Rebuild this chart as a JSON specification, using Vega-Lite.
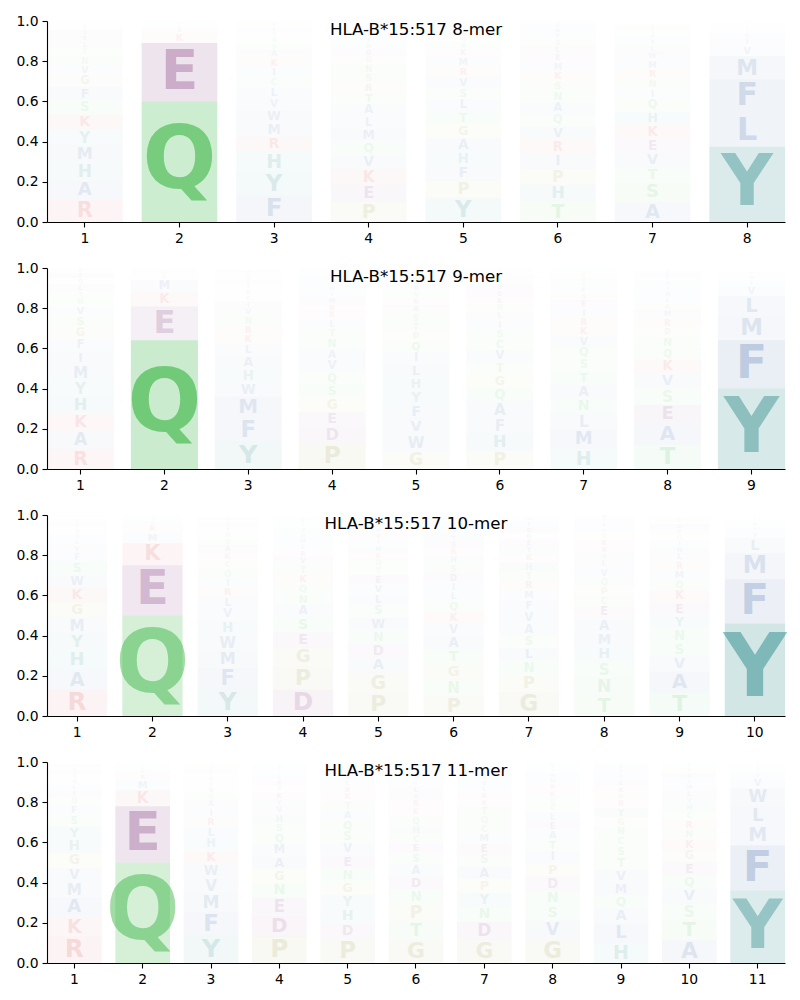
{
"$schema":"https://vega.github.io/schema/vega-lite/v6.json",
"padding":{"left":15,"top":14,"right":10,"bottom":5},
"background":"white",
"spacing":16,
"config":{"view":{"stroke":null},"axis":{"domainColor":"#000","tickColor":"#000","labelColor":"#000","labelFont":"DejaVu Sans","labelFontSize":13.9,"tickSize":5,"tickWidth":1.1,"domainWidth":1.1,"labelPadding":4,"grid":false},"title":{"font":"DejaVu Sans","fontSize":16.67,"fontWeight":"normal","color":"#000","offset":0,"dy":29,"baseline":"alphabetic"}},
"data":{"values":[
{"k":8,"pos":1,"aa":"R","p":0.11},{"k":8,"pos":1,"aa":"A","p":0.095},{"k":8,"pos":1,"aa":"H","p":0.09},{"k":8,"pos":1,"aa":"M","p":0.085},{"k":8,"pos":1,"aa":"Y","p":0.08},{"k":8,"pos":1,"aa":"K","p":0.075},{"k":8,"pos":1,"aa":"S","p":0.07},{"k":8,"pos":1,"aa":"F","p":0.065},{"k":8,"pos":1,"aa":"G","p":0.06},{"k":8,"pos":1,"aa":"V","p":0.05},{"k":8,"pos":1,"aa":"N","p":0.045},{"k":8,"pos":1,"aa":"T","p":0.04},{"k":8,"pos":1,"aa":"L","p":0.035},{"k":8,"pos":1,"aa":"E","p":0.03},{"k":8,"pos":1,"aa":"D","p":0.025},{"k":8,"pos":1,"aa":"Q","p":0.02},{"k":8,"pos":1,"aa":"C","p":0.015},{"k":8,"pos":1,"aa":"W","p":0.01},
{"k":8,"pos":2,"aa":"Q","p":0.60},{"k":8,"pos":2,"aa":"E","p":0.29},{"k":8,"pos":2,"aa":"K","p":0.05},{"k":8,"pos":2,"aa":"R","p":0.025},{"k":8,"pos":2,"aa":"M","p":0.015},{"k":8,"pos":2,"aa":"D","p":0.01},{"k":8,"pos":2,"aa":"H","p":0.01},
{"k":8,"pos":3,"aa":"F","p":0.13},{"k":8,"pos":3,"aa":"Y","p":0.12},{"k":8,"pos":3,"aa":"H","p":0.10},{"k":8,"pos":3,"aa":"R","p":0.075},{"k":8,"pos":3,"aa":"M","p":0.07},{"k":8,"pos":3,"aa":"W","p":0.065},{"k":8,"pos":3,"aa":"V","p":0.055},{"k":8,"pos":3,"aa":"L","p":0.055},{"k":8,"pos":3,"aa":"C","p":0.05},{"k":8,"pos":3,"aa":"I","p":0.05},{"k":8,"pos":3,"aa":"K","p":0.045},{"k":8,"pos":3,"aa":"A","p":0.04},{"k":8,"pos":3,"aa":"S","p":0.035},{"k":8,"pos":3,"aa":"N","p":0.03},{"k":8,"pos":3,"aa":"T","p":0.025},{"k":8,"pos":3,"aa":"E","p":0.02},{"k":8,"pos":3,"aa":"G","p":0.02},{"k":8,"pos":3,"aa":"Q","p":0.015},
{"k":8,"pos":4,"aa":"P","p":0.10},{"k":8,"pos":4,"aa":"E","p":0.085},{"k":8,"pos":4,"aa":"K","p":0.08},{"k":8,"pos":4,"aa":"V","p":0.07},{"k":8,"pos":4,"aa":"Q","p":0.065},{"k":8,"pos":4,"aa":"M","p":0.065},{"k":8,"pos":4,"aa":"L","p":0.06},{"k":8,"pos":4,"aa":"A","p":0.06},{"k":8,"pos":4,"aa":"T","p":0.055},{"k":8,"pos":4,"aa":"R","p":0.05},{"k":8,"pos":4,"aa":"S","p":0.05},{"k":8,"pos":4,"aa":"N","p":0.045},{"k":8,"pos":4,"aa":"G","p":0.04},{"k":8,"pos":4,"aa":"D","p":0.035},{"k":8,"pos":4,"aa":"H","p":0.03},{"k":8,"pos":4,"aa":"Y","p":0.03},{"k":8,"pos":4,"aa":"F","p":0.025},{"k":8,"pos":4,"aa":"W","p":0.02},{"k":8,"pos":4,"aa":"C","p":0.02},{"k":8,"pos":4,"aa":"I","p":0.015},
{"k":8,"pos":5,"aa":"Y","p":0.12},{"k":8,"pos":5,"aa":"P","p":0.085},{"k":8,"pos":5,"aa":"F","p":0.075},{"k":8,"pos":5,"aa":"H","p":0.07},{"k":8,"pos":5,"aa":"A","p":0.07},{"k":8,"pos":5,"aa":"G","p":0.065},{"k":8,"pos":5,"aa":"T","p":0.065},{"k":8,"pos":5,"aa":"L","p":0.06},{"k":8,"pos":5,"aa":"S","p":0.055},{"k":8,"pos":5,"aa":"V","p":0.055},{"k":8,"pos":5,"aa":"R","p":0.05},{"k":8,"pos":5,"aa":"M","p":0.05},{"k":8,"pos":5,"aa":"K","p":0.04},{"k":8,"pos":5,"aa":"N","p":0.035},{"k":8,"pos":5,"aa":"Q","p":0.03},{"k":8,"pos":5,"aa":"E","p":0.025},{"k":8,"pos":5,"aa":"W","p":0.02},{"k":8,"pos":5,"aa":"I","p":0.015},{"k":8,"pos":5,"aa":"D","p":0.015},
{"k":8,"pos":6,"aa":"T","p":0.10},{"k":8,"pos":6,"aa":"H","p":0.085},{"k":8,"pos":6,"aa":"P","p":0.08},{"k":8,"pos":6,"aa":"I","p":0.075},{"k":8,"pos":6,"aa":"R","p":0.07},{"k":8,"pos":6,"aa":"V","p":0.065},{"k":8,"pos":6,"aa":"Q","p":0.06},{"k":8,"pos":6,"aa":"A","p":0.06},{"k":8,"pos":6,"aa":"N","p":0.055},{"k":8,"pos":6,"aa":"S","p":0.05},{"k":8,"pos":6,"aa":"K","p":0.05},{"k":8,"pos":6,"aa":"M","p":0.045},{"k":8,"pos":6,"aa":"E","p":0.04},{"k":8,"pos":6,"aa":"L","p":0.04},{"k":8,"pos":6,"aa":"G","p":0.035},{"k":8,"pos":6,"aa":"Y","p":0.03},{"k":8,"pos":6,"aa":"W","p":0.025},{"k":8,"pos":6,"aa":"D","p":0.02},{"k":8,"pos":6,"aa":"F","p":0.015},
{"k":8,"pos":7,"aa":"A","p":0.10},{"k":8,"pos":7,"aa":"S","p":0.095},{"k":8,"pos":7,"aa":"T","p":0.075},{"k":8,"pos":7,"aa":"V","p":0.075},{"k":8,"pos":7,"aa":"E","p":0.07},{"k":8,"pos":7,"aa":"K","p":0.07},{"k":8,"pos":7,"aa":"H","p":0.065},{"k":8,"pos":7,"aa":"Q","p":0.06},{"k":8,"pos":7,"aa":"I","p":0.05},{"k":8,"pos":7,"aa":"N","p":0.05},{"k":8,"pos":7,"aa":"R","p":0.05},{"k":8,"pos":7,"aa":"M","p":0.045},{"k":8,"pos":7,"aa":"W","p":0.04},{"k":8,"pos":7,"aa":"L","p":0.035},{"k":8,"pos":7,"aa":"Y","p":0.03},{"k":8,"pos":7,"aa":"F","p":0.025},{"k":8,"pos":7,"aa":"G","p":0.02},{"k":8,"pos":7,"aa":"D","p":0.02},{"k":8,"pos":7,"aa":"P","p":0.015},{"k":8,"pos":7,"aa":"C","p":0.01},
{"k":8,"pos":8,"aa":"Y","p":0.375},{"k":8,"pos":8,"aa":"L","p":0.17},{"k":8,"pos":8,"aa":"F","p":0.165},{"k":8,"pos":8,"aa":"M","p":0.115},{"k":8,"pos":8,"aa":"V","p":0.05},{"k":8,"pos":8,"aa":"I","p":0.04},{"k":8,"pos":8,"aa":"W","p":0.025},{"k":8,"pos":8,"aa":"A","p":0.015},{"k":8,"pos":8,"aa":"T","p":0.015},{"k":8,"pos":8,"aa":"H","p":0.01},{"k":8,"pos":8,"aa":"C","p":0.01},{"k":8,"pos":8,"aa":"K","p":0.01},
{"k":9,"pos":1,"aa":"R","p":0.10},{"k":9,"pos":1,"aa":"A","p":0.09},{"k":9,"pos":1,"aa":"K","p":0.085},{"k":9,"pos":1,"aa":"H","p":0.085},{"k":9,"pos":1,"aa":"Y","p":0.08},{"k":9,"pos":1,"aa":"M","p":0.08},{"k":9,"pos":1,"aa":"I","p":0.065},{"k":9,"pos":1,"aa":"F","p":0.06},{"k":9,"pos":1,"aa":"G","p":0.06},{"k":9,"pos":1,"aa":"S","p":0.055},{"k":9,"pos":1,"aa":"V","p":0.05},{"k":9,"pos":1,"aa":"N","p":0.04},{"k":9,"pos":1,"aa":"T","p":0.035},{"k":9,"pos":1,"aa":"L","p":0.035},{"k":9,"pos":1,"aa":"Q","p":0.03},{"k":9,"pos":1,"aa":"E","p":0.025},{"k":9,"pos":1,"aa":"C","p":0.025},
{"k":9,"pos":2,"aa":"Q","p":0.64},{"k":9,"pos":2,"aa":"E","p":0.17},{"k":9,"pos":2,"aa":"K","p":0.07},{"k":9,"pos":2,"aa":"M","p":0.06},{"k":9,"pos":2,"aa":"R","p":0.02},{"k":9,"pos":2,"aa":"H","p":0.015},{"k":9,"pos":2,"aa":"D","p":0.015},{"k":9,"pos":2,"aa":"L","p":0.01},
{"k":9,"pos":3,"aa":"Y","p":0.135},{"k":9,"pos":3,"aa":"F","p":0.12},{"k":9,"pos":3,"aa":"M","p":0.105},{"k":9,"pos":3,"aa":"W","p":0.07},{"k":9,"pos":3,"aa":"H","p":0.07},{"k":9,"pos":3,"aa":"A","p":0.065},{"k":9,"pos":3,"aa":"L","p":0.055},{"k":9,"pos":3,"aa":"K","p":0.05},{"k":9,"pos":3,"aa":"R","p":0.045},{"k":9,"pos":3,"aa":"N","p":0.045},{"k":9,"pos":3,"aa":"V","p":0.04},{"k":9,"pos":3,"aa":"I","p":0.035},{"k":9,"pos":3,"aa":"C","p":0.03},{"k":9,"pos":3,"aa":"S","p":0.03},{"k":9,"pos":3,"aa":"T","p":0.025},{"k":9,"pos":3,"aa":"E","p":0.02},{"k":9,"pos":3,"aa":"Q","p":0.02},{"k":9,"pos":3,"aa":"G","p":0.015},{"k":9,"pos":3,"aa":"D","p":0.015},{"k":9,"pos":3,"aa":"P","p":0.01},
{"k":9,"pos":4,"aa":"P","p":0.125},{"k":9,"pos":4,"aa":"D","p":0.085},{"k":9,"pos":4,"aa":"E","p":0.075},{"k":9,"pos":4,"aa":"G","p":0.07},{"k":9,"pos":4,"aa":"S","p":0.065},{"k":9,"pos":4,"aa":"Q","p":0.06},{"k":9,"pos":4,"aa":"V","p":0.06},{"k":9,"pos":4,"aa":"A","p":0.055},{"k":9,"pos":4,"aa":"N","p":0.055},{"k":9,"pos":4,"aa":"T","p":0.05},{"k":9,"pos":4,"aa":"L","p":0.045},{"k":9,"pos":4,"aa":"K","p":0.04},{"k":9,"pos":4,"aa":"R","p":0.035},{"k":9,"pos":4,"aa":"M","p":0.035},{"k":9,"pos":4,"aa":"I","p":0.03},{"k":9,"pos":4,"aa":"H","p":0.03},{"k":9,"pos":4,"aa":"F","p":0.025},{"k":9,"pos":4,"aa":"Y","p":0.025},{"k":9,"pos":4,"aa":"W","p":0.02},{"k":9,"pos":4,"aa":"C","p":0.015},
{"k":9,"pos":5,"aa":"G","p":0.09},{"k":9,"pos":5,"aa":"W","p":0.08},{"k":9,"pos":5,"aa":"V","p":0.075},{"k":9,"pos":5,"aa":"F","p":0.075},{"k":9,"pos":5,"aa":"Y","p":0.07},{"k":9,"pos":5,"aa":"H","p":0.065},{"k":9,"pos":5,"aa":"L","p":0.065},{"k":9,"pos":5,"aa":"I","p":0.06},{"k":9,"pos":5,"aa":"Q","p":0.055},{"k":9,"pos":5,"aa":"P","p":0.05},{"k":9,"pos":5,"aa":"T","p":0.045},{"k":9,"pos":5,"aa":"S","p":0.045},{"k":9,"pos":5,"aa":"A","p":0.04},{"k":9,"pos":5,"aa":"R","p":0.035},{"k":9,"pos":5,"aa":"N","p":0.035},{"k":9,"pos":5,"aa":"M","p":0.03},{"k":9,"pos":5,"aa":"K","p":0.025},{"k":9,"pos":5,"aa":"E","p":0.025},{"k":9,"pos":5,"aa":"D","p":0.02},{"k":9,"pos":5,"aa":"C","p":0.015},
{"k":9,"pos":6,"aa":"P","p":0.09},{"k":9,"pos":6,"aa":"H","p":0.085},{"k":9,"pos":6,"aa":"F","p":0.08},{"k":9,"pos":6,"aa":"A","p":0.08},{"k":9,"pos":6,"aa":"Q","p":0.07},{"k":9,"pos":6,"aa":"G","p":0.065},{"k":9,"pos":6,"aa":"T","p":0.06},{"k":9,"pos":6,"aa":"V","p":0.06},{"k":9,"pos":6,"aa":"C","p":0.055},{"k":9,"pos":6,"aa":"S","p":0.05},{"k":9,"pos":6,"aa":"I","p":0.045},{"k":9,"pos":6,"aa":"L","p":0.04},{"k":9,"pos":6,"aa":"N","p":0.04},{"k":9,"pos":6,"aa":"K","p":0.035},{"k":9,"pos":6,"aa":"E","p":0.035},{"k":9,"pos":6,"aa":"D","p":0.03},{"k":9,"pos":6,"aa":"M","p":0.025},{"k":9,"pos":6,"aa":"R","p":0.025},{"k":9,"pos":6,"aa":"Y","p":0.02},{"k":9,"pos":6,"aa":"W","p":0.01},
{"k":9,"pos":7,"aa":"H","p":0.10},{"k":9,"pos":7,"aa":"M","p":0.095},{"k":9,"pos":7,"aa":"L","p":0.08},{"k":9,"pos":7,"aa":"N","p":0.075},{"k":9,"pos":7,"aa":"A","p":0.07},{"k":9,"pos":7,"aa":"T","p":0.065},{"k":9,"pos":7,"aa":"S","p":0.06},{"k":9,"pos":7,"aa":"Q","p":0.06},{"k":9,"pos":7,"aa":"V","p":0.055},{"k":9,"pos":7,"aa":"K","p":0.05},{"k":9,"pos":7,"aa":"R","p":0.045},{"k":9,"pos":7,"aa":"I","p":0.045},{"k":9,"pos":7,"aa":"E","p":0.04},{"k":9,"pos":7,"aa":"G","p":0.035},{"k":9,"pos":7,"aa":"F","p":0.03},{"k":9,"pos":7,"aa":"Y","p":0.025},{"k":9,"pos":7,"aa":"D","p":0.02},{"k":9,"pos":7,"aa":"C","p":0.02},{"k":9,"pos":7,"aa":"P","p":0.015},{"k":9,"pos":7,"aa":"W","p":0.015},
{"k":9,"pos":8,"aa":"T","p":0.12},{"k":9,"pos":8,"aa":"A","p":0.105},{"k":9,"pos":8,"aa":"E","p":0.095},{"k":9,"pos":8,"aa":"S","p":0.08},{"k":9,"pos":8,"aa":"V","p":0.075},{"k":9,"pos":8,"aa":"K","p":0.07},{"k":9,"pos":8,"aa":"Q","p":0.055},{"k":9,"pos":8,"aa":"N","p":0.055},{"k":9,"pos":8,"aa":"P","p":0.05},{"k":9,"pos":8,"aa":"R","p":0.045},{"k":9,"pos":8,"aa":"M","p":0.04},{"k":9,"pos":8,"aa":"G","p":0.035},{"k":9,"pos":8,"aa":"L","p":0.03},{"k":9,"pos":8,"aa":"H","p":0.03},{"k":9,"pos":8,"aa":"I","p":0.025},{"k":9,"pos":8,"aa":"Y","p":0.025},{"k":9,"pos":8,"aa":"F","p":0.02},{"k":9,"pos":8,"aa":"D","p":0.02},{"k":9,"pos":8,"aa":"W","p":0.015},{"k":9,"pos":8,"aa":"C","p":0.01},
{"k":9,"pos":9,"aa":"Y","p":0.40},{"k":9,"pos":9,"aa":"F","p":0.24},{"k":9,"pos":9,"aa":"M","p":0.12},{"k":9,"pos":9,"aa":"L","p":0.10},{"k":9,"pos":9,"aa":"V","p":0.05},{"k":9,"pos":9,"aa":"I","p":0.03},{"k":9,"pos":9,"aa":"W","p":0.02},{"k":9,"pos":9,"aa":"A","p":0.01},{"k":9,"pos":9,"aa":"H","p":0.01},{"k":9,"pos":9,"aa":"T","p":0.01},{"k":9,"pos":9,"aa":"C","p":0.01},
{"k":10,"pos":1,"aa":"R","p":0.13},{"k":10,"pos":1,"aa":"A","p":0.10},{"k":10,"pos":1,"aa":"H","p":0.095},{"k":10,"pos":1,"aa":"Y","p":0.085},{"k":10,"pos":1,"aa":"M","p":0.08},{"k":10,"pos":1,"aa":"G","p":0.075},{"k":10,"pos":1,"aa":"K","p":0.075},{"k":10,"pos":1,"aa":"W","p":0.065},{"k":10,"pos":1,"aa":"S","p":0.065},{"k":10,"pos":1,"aa":"F","p":0.045},{"k":10,"pos":1,"aa":"V","p":0.035},{"k":10,"pos":1,"aa":"L","p":0.03},{"k":10,"pos":1,"aa":"I","p":0.025},{"k":10,"pos":1,"aa":"N","p":0.025},{"k":10,"pos":1,"aa":"T","p":0.02},{"k":10,"pos":1,"aa":"E","p":0.015},{"k":10,"pos":1,"aa":"Q","p":0.015},{"k":10,"pos":1,"aa":"C","p":0.01},{"k":10,"pos":1,"aa":"D","p":0.01},
{"k":10,"pos":2,"aa":"Q","p":0.50},{"k":10,"pos":2,"aa":"E","p":0.25},{"k":10,"pos":2,"aa":"K","p":0.11},{"k":10,"pos":2,"aa":"M","p":0.05},{"k":10,"pos":2,"aa":"R","p":0.04},{"k":10,"pos":2,"aa":"D","p":0.02},{"k":10,"pos":2,"aa":"H","p":0.015},{"k":10,"pos":2,"aa":"L","p":0.015},
{"k":10,"pos":3,"aa":"Y","p":0.13},{"k":10,"pos":3,"aa":"F","p":0.11},{"k":10,"pos":3,"aa":"M","p":0.085},{"k":10,"pos":3,"aa":"W","p":0.08},{"k":10,"pos":3,"aa":"H","p":0.07},{"k":10,"pos":3,"aa":"V","p":0.06},{"k":10,"pos":3,"aa":"L","p":0.055},{"k":10,"pos":3,"aa":"R","p":0.05},{"k":10,"pos":3,"aa":"I","p":0.045},{"k":10,"pos":3,"aa":"Q","p":0.045},{"k":10,"pos":3,"aa":"C","p":0.04},{"k":10,"pos":3,"aa":"K","p":0.04},{"k":10,"pos":3,"aa":"A","p":0.04},{"k":10,"pos":3,"aa":"S","p":0.035},{"k":10,"pos":3,"aa":"N","p":0.03},{"k":10,"pos":3,"aa":"T","p":0.025},{"k":10,"pos":3,"aa":"E","p":0.02},{"k":10,"pos":3,"aa":"G","p":0.015},{"k":10,"pos":3,"aa":"D","p":0.015},{"k":10,"pos":3,"aa":"P","p":0.01},
{"k":10,"pos":4,"aa":"D","p":0.13},{"k":10,"pos":4,"aa":"P","p":0.115},{"k":10,"pos":4,"aa":"G","p":0.095},{"k":10,"pos":4,"aa":"E","p":0.075},{"k":10,"pos":4,"aa":"S","p":0.075},{"k":10,"pos":4,"aa":"A","p":0.06},{"k":10,"pos":4,"aa":"N","p":0.055},{"k":10,"pos":4,"aa":"Q","p":0.05},{"k":10,"pos":4,"aa":"K","p":0.05},{"k":10,"pos":4,"aa":"T","p":0.045},{"k":10,"pos":4,"aa":"V","p":0.04},{"k":10,"pos":4,"aa":"R","p":0.035},{"k":10,"pos":4,"aa":"L","p":0.03},{"k":10,"pos":4,"aa":"M","p":0.03},{"k":10,"pos":4,"aa":"H","p":0.025},{"k":10,"pos":4,"aa":"Y","p":0.025},{"k":10,"pos":4,"aa":"I","p":0.02},{"k":10,"pos":4,"aa":"F","p":0.02},{"k":10,"pos":4,"aa":"W","p":0.015},{"k":10,"pos":4,"aa":"C","p":0.01},
{"k":10,"pos":5,"aa":"P","p":0.115},{"k":10,"pos":5,"aa":"G","p":0.10},{"k":10,"pos":5,"aa":"A","p":0.075},{"k":10,"pos":5,"aa":"D","p":0.07},{"k":10,"pos":5,"aa":"N","p":0.065},{"k":10,"pos":5,"aa":"W","p":0.065},{"k":10,"pos":5,"aa":"S","p":0.06},{"k":10,"pos":5,"aa":"L","p":0.055},{"k":10,"pos":5,"aa":"V","p":0.05},{"k":10,"pos":5,"aa":"E","p":0.045},{"k":10,"pos":5,"aa":"T","p":0.04},{"k":10,"pos":5,"aa":"Q","p":0.04},{"k":10,"pos":5,"aa":"K","p":0.035},{"k":10,"pos":5,"aa":"H","p":0.035},{"k":10,"pos":5,"aa":"I","p":0.03},{"k":10,"pos":5,"aa":"R","p":0.03},{"k":10,"pos":5,"aa":"M","p":0.025},{"k":10,"pos":5,"aa":"F","p":0.025},{"k":10,"pos":5,"aa":"Y","p":0.02},{"k":10,"pos":5,"aa":"C","p":0.02},
{"k":10,"pos":6,"aa":"P","p":0.10},{"k":10,"pos":6,"aa":"N","p":0.08},{"k":10,"pos":6,"aa":"G","p":0.075},{"k":10,"pos":6,"aa":"T","p":0.075},{"k":10,"pos":6,"aa":"A","p":0.07},{"k":10,"pos":6,"aa":"V","p":0.06},{"k":10,"pos":6,"aa":"K","p":0.055},{"k":10,"pos":6,"aa":"Q","p":0.055},{"k":10,"pos":6,"aa":"L","p":0.05},{"k":10,"pos":6,"aa":"I","p":0.045},{"k":10,"pos":6,"aa":"D","p":0.045},{"k":10,"pos":6,"aa":"S","p":0.045},{"k":10,"pos":6,"aa":"H","p":0.04},{"k":10,"pos":6,"aa":"R","p":0.04},{"k":10,"pos":6,"aa":"E","p":0.035},{"k":10,"pos":6,"aa":"Y","p":0.035},{"k":10,"pos":6,"aa":"M","p":0.03},{"k":10,"pos":6,"aa":"F","p":0.025},{"k":10,"pos":6,"aa":"W","p":0.02},{"k":10,"pos":6,"aa":"C","p":0.02},
{"k":10,"pos":7,"aa":"G","p":0.12},{"k":10,"pos":7,"aa":"P","p":0.085},{"k":10,"pos":7,"aa":"N","p":0.07},{"k":10,"pos":7,"aa":"L","p":0.065},{"k":10,"pos":7,"aa":"S","p":0.06},{"k":10,"pos":7,"aa":"A","p":0.06},{"k":10,"pos":7,"aa":"V","p":0.06},{"k":10,"pos":7,"aa":"F","p":0.055},{"k":10,"pos":7,"aa":"M","p":0.05},{"k":10,"pos":7,"aa":"R","p":0.05},{"k":10,"pos":7,"aa":"T","p":0.045},{"k":10,"pos":7,"aa":"H","p":0.045},{"k":10,"pos":7,"aa":"K","p":0.04},{"k":10,"pos":7,"aa":"Y","p":0.04},{"k":10,"pos":7,"aa":"E","p":0.035},{"k":10,"pos":7,"aa":"Q","p":0.03},{"k":10,"pos":7,"aa":"D","p":0.03},{"k":10,"pos":7,"aa":"I","p":0.03},{"k":10,"pos":7,"aa":"W","p":0.02},{"k":10,"pos":7,"aa":"C","p":0.01},
{"k":10,"pos":8,"aa":"T","p":0.10},{"k":10,"pos":8,"aa":"N","p":0.09},{"k":10,"pos":8,"aa":"S","p":0.08},{"k":10,"pos":8,"aa":"H","p":0.075},{"k":10,"pos":8,"aa":"M","p":0.07},{"k":10,"pos":8,"aa":"A","p":0.07},{"k":10,"pos":8,"aa":"E","p":0.06},{"k":10,"pos":8,"aa":"C","p":0.05},{"k":10,"pos":8,"aa":"P","p":0.05},{"k":10,"pos":8,"aa":"Q","p":0.045},{"k":10,"pos":8,"aa":"V","p":0.045},{"k":10,"pos":8,"aa":"L","p":0.04},{"k":10,"pos":8,"aa":"Y","p":0.035},{"k":10,"pos":8,"aa":"R","p":0.035},{"k":10,"pos":8,"aa":"K","p":0.035},{"k":10,"pos":8,"aa":"G","p":0.03},{"k":10,"pos":8,"aa":"I","p":0.025},{"k":10,"pos":8,"aa":"F","p":0.025},{"k":10,"pos":8,"aa":"D","p":0.02},{"k":10,"pos":8,"aa":"W","p":0.02},
{"k":10,"pos":9,"aa":"T","p":0.115},{"k":10,"pos":9,"aa":"A","p":0.105},{"k":10,"pos":9,"aa":"V","p":0.075},{"k":10,"pos":9,"aa":"S","p":0.07},{"k":10,"pos":9,"aa":"N","p":0.07},{"k":10,"pos":9,"aa":"Y","p":0.065},{"k":10,"pos":9,"aa":"E","p":0.065},{"k":10,"pos":9,"aa":"K","p":0.06},{"k":10,"pos":9,"aa":"Q","p":0.05},{"k":10,"pos":9,"aa":"M","p":0.05},{"k":10,"pos":9,"aa":"R","p":0.045},{"k":10,"pos":9,"aa":"L","p":0.04},{"k":10,"pos":9,"aa":"H","p":0.035},{"k":10,"pos":9,"aa":"I","p":0.03},{"k":10,"pos":9,"aa":"G","p":0.03},{"k":10,"pos":9,"aa":"F","p":0.025},{"k":10,"pos":9,"aa":"D","p":0.025},{"k":10,"pos":9,"aa":"P","p":0.02},{"k":10,"pos":9,"aa":"W","p":0.015},{"k":10,"pos":9,"aa":"C","p":0.01},
{"k":10,"pos":10,"aa":"Y","p":0.46},{"k":10,"pos":10,"aa":"F","p":0.22},{"k":10,"pos":10,"aa":"M","p":0.13},{"k":10,"pos":10,"aa":"L","p":0.075},{"k":10,"pos":10,"aa":"V","p":0.03},{"k":10,"pos":10,"aa":"I","p":0.025},{"k":10,"pos":10,"aa":"W","p":0.02},{"k":10,"pos":10,"aa":"A","p":0.01},{"k":10,"pos":10,"aa":"H","p":0.01},{"k":10,"pos":10,"aa":"C","p":0.01},{"k":10,"pos":10,"aa":"T","p":0.01},
{"k":11,"pos":1,"aa":"R","p":0.13},{"k":11,"pos":1,"aa":"K","p":0.10},{"k":11,"pos":1,"aa":"A","p":0.095},{"k":11,"pos":1,"aa":"M","p":0.08},{"k":11,"pos":1,"aa":"V","p":0.07},{"k":11,"pos":1,"aa":"G","p":0.07},{"k":11,"pos":1,"aa":"H","p":0.07},{"k":11,"pos":1,"aa":"Y","p":0.065},{"k":11,"pos":1,"aa":"S","p":0.055},{"k":11,"pos":1,"aa":"F","p":0.05},{"k":11,"pos":1,"aa":"Q","p":0.04},{"k":11,"pos":1,"aa":"I","p":0.035},{"k":11,"pos":1,"aa":"L","p":0.03},{"k":11,"pos":1,"aa":"N","p":0.025},{"k":11,"pos":1,"aa":"T","p":0.025},{"k":11,"pos":1,"aa":"E","p":0.02},{"k":11,"pos":1,"aa":"W","p":0.015},{"k":11,"pos":1,"aa":"D","p":0.015},{"k":11,"pos":1,"aa":"C","p":0.01},
{"k":11,"pos":2,"aa":"Q","p":0.50},{"k":11,"pos":2,"aa":"E","p":0.28},{"k":11,"pos":2,"aa":"K","p":0.08},{"k":11,"pos":2,"aa":"M","p":0.05},{"k":11,"pos":2,"aa":"R","p":0.03},{"k":11,"pos":2,"aa":"D","p":0.02},{"k":11,"pos":2,"aa":"H","p":0.015},{"k":11,"pos":2,"aa":"L","p":0.015},{"k":11,"pos":2,"aa":"A","p":0.01},
{"k":11,"pos":3,"aa":"Y","p":0.135},{"k":11,"pos":3,"aa":"F","p":0.12},{"k":11,"pos":3,"aa":"M","p":0.09},{"k":11,"pos":3,"aa":"V","p":0.08},{"k":11,"pos":3,"aa":"W","p":0.07},{"k":11,"pos":3,"aa":"K","p":0.065},{"k":11,"pos":3,"aa":"H","p":0.06},{"k":11,"pos":3,"aa":"L","p":0.055},{"k":11,"pos":3,"aa":"R","p":0.05},{"k":11,"pos":3,"aa":"I","p":0.045},{"k":11,"pos":3,"aa":"A","p":0.04},{"k":11,"pos":3,"aa":"Q","p":0.035},{"k":11,"pos":3,"aa":"N","p":0.03},{"k":11,"pos":3,"aa":"S","p":0.025},{"k":11,"pos":3,"aa":"T","p":0.025},{"k":11,"pos":3,"aa":"C","p":0.02},{"k":11,"pos":3,"aa":"E","p":0.02},{"k":11,"pos":3,"aa":"G","p":0.015},{"k":11,"pos":3,"aa":"D","p":0.01},{"k":11,"pos":3,"aa":"P","p":0.01},
{"k":11,"pos":4,"aa":"P","p":0.13},{"k":11,"pos":4,"aa":"D","p":0.105},{"k":11,"pos":4,"aa":"E","p":0.09},{"k":11,"pos":4,"aa":"N","p":0.075},{"k":11,"pos":4,"aa":"G","p":0.065},{"k":11,"pos":4,"aa":"A","p":0.065},{"k":11,"pos":4,"aa":"M","p":0.06},{"k":11,"pos":4,"aa":"Q","p":0.055},{"k":11,"pos":4,"aa":"S","p":0.05},{"k":11,"pos":4,"aa":"H","p":0.045},{"k":11,"pos":4,"aa":"V","p":0.04},{"k":11,"pos":4,"aa":"Y","p":0.035},{"k":11,"pos":4,"aa":"K","p":0.035},{"k":11,"pos":4,"aa":"T","p":0.03},{"k":11,"pos":4,"aa":"R","p":0.03},{"k":11,"pos":4,"aa":"L","p":0.025},{"k":11,"pos":4,"aa":"I","p":0.02},{"k":11,"pos":4,"aa":"F","p":0.02},{"k":11,"pos":4,"aa":"W","p":0.015},{"k":11,"pos":4,"aa":"C","p":0.01},
{"k":11,"pos":5,"aa":"P","p":0.12},{"k":11,"pos":5,"aa":"D","p":0.075},{"k":11,"pos":5,"aa":"H","p":0.075},{"k":11,"pos":5,"aa":"Y","p":0.07},{"k":11,"pos":5,"aa":"G","p":0.065},{"k":11,"pos":5,"aa":"N","p":0.065},{"k":11,"pos":5,"aa":"E","p":0.065},{"k":11,"pos":5,"aa":"V","p":0.06},{"k":11,"pos":5,"aa":"S","p":0.06},{"k":11,"pos":5,"aa":"Q","p":0.055},{"k":11,"pos":5,"aa":"A","p":0.05},{"k":11,"pos":5,"aa":"T","p":0.045},{"k":11,"pos":5,"aa":"K","p":0.04},{"k":11,"pos":5,"aa":"R","p":0.035},{"k":11,"pos":5,"aa":"L","p":0.03},{"k":11,"pos":5,"aa":"M","p":0.03},{"k":11,"pos":5,"aa":"I","p":0.025},{"k":11,"pos":5,"aa":"F","p":0.02},{"k":11,"pos":5,"aa":"W","p":0.015},
{"k":11,"pos":6,"aa":"G","p":0.115},{"k":11,"pos":6,"aa":"T","p":0.09},{"k":11,"pos":6,"aa":"P","p":0.09},{"k":11,"pos":6,"aa":"N","p":0.07},{"k":11,"pos":6,"aa":"D","p":0.065},{"k":11,"pos":6,"aa":"A","p":0.06},{"k":11,"pos":6,"aa":"S","p":0.055},{"k":11,"pos":6,"aa":"E","p":0.05},{"k":11,"pos":6,"aa":"C","p":0.045},{"k":11,"pos":6,"aa":"H","p":0.045},{"k":11,"pos":6,"aa":"Q","p":0.045},{"k":11,"pos":6,"aa":"K","p":0.04},{"k":11,"pos":6,"aa":"R","p":0.04},{"k":11,"pos":6,"aa":"V","p":0.035},{"k":11,"pos":6,"aa":"L","p":0.035},{"k":11,"pos":6,"aa":"I","p":0.03},{"k":11,"pos":6,"aa":"M","p":0.03},{"k":11,"pos":6,"aa":"Y","p":0.025},{"k":11,"pos":6,"aa":"F","p":0.02},{"k":11,"pos":6,"aa":"W","p":0.015},
{"k":11,"pos":7,"aa":"G","p":0.115},{"k":11,"pos":7,"aa":"D","p":0.09},{"k":11,"pos":7,"aa":"N","p":0.075},{"k":11,"pos":7,"aa":"Y","p":0.07},{"k":11,"pos":7,"aa":"P","p":0.065},{"k":11,"pos":7,"aa":"A","p":0.065},{"k":11,"pos":7,"aa":"S","p":0.06},{"k":11,"pos":7,"aa":"E","p":0.055},{"k":11,"pos":7,"aa":"M","p":0.05},{"k":11,"pos":7,"aa":"C","p":0.045},{"k":11,"pos":7,"aa":"Q","p":0.045},{"k":11,"pos":7,"aa":"T","p":0.045},{"k":11,"pos":7,"aa":"K","p":0.035},{"k":11,"pos":7,"aa":"R","p":0.035},{"k":11,"pos":7,"aa":"L","p":0.03},{"k":11,"pos":7,"aa":"V","p":0.03},{"k":11,"pos":7,"aa":"H","p":0.03},{"k":11,"pos":7,"aa":"I","p":0.025},{"k":11,"pos":7,"aa":"F","p":0.02},{"k":11,"pos":7,"aa":"W","p":0.015},
{"k":11,"pos":8,"aa":"G","p":0.12},{"k":11,"pos":8,"aa":"V","p":0.09},{"k":11,"pos":8,"aa":"S","p":0.075},{"k":11,"pos":8,"aa":"N","p":0.075},{"k":11,"pos":8,"aa":"D","p":0.07},{"k":11,"pos":8,"aa":"P","p":0.065},{"k":11,"pos":8,"aa":"I","p":0.06},{"k":11,"pos":8,"aa":"T","p":0.055},{"k":11,"pos":8,"aa":"A","p":0.05},{"k":11,"pos":8,"aa":"E","p":0.045},{"k":11,"pos":8,"aa":"L","p":0.045},{"k":11,"pos":8,"aa":"C","p":0.04},{"k":11,"pos":8,"aa":"Q","p":0.035},{"k":11,"pos":8,"aa":"K","p":0.035},{"k":11,"pos":8,"aa":"R","p":0.03},{"k":11,"pos":8,"aa":"H","p":0.03},{"k":11,"pos":8,"aa":"M","p":0.025},{"k":11,"pos":8,"aa":"Y","p":0.02},{"k":11,"pos":8,"aa":"F","p":0.02},{"k":11,"pos":8,"aa":"W","p":0.015},
{"k":11,"pos":9,"aa":"H","p":0.10},{"k":11,"pos":9,"aa":"L","p":0.095},{"k":11,"pos":9,"aa":"A","p":0.075},{"k":11,"pos":9,"aa":"Q","p":0.065},{"k":11,"pos":9,"aa":"M","p":0.065},{"k":11,"pos":9,"aa":"V","p":0.065},{"k":11,"pos":9,"aa":"T","p":0.06},{"k":11,"pos":9,"aa":"S","p":0.055},{"k":11,"pos":9,"aa":"C","p":0.05},{"k":11,"pos":9,"aa":"N","p":0.05},{"k":11,"pos":9,"aa":"G","p":0.045},{"k":11,"pos":9,"aa":"Y","p":0.045},{"k":11,"pos":9,"aa":"R","p":0.04},{"k":11,"pos":9,"aa":"P","p":0.035},{"k":11,"pos":9,"aa":"K","p":0.035},{"k":11,"pos":9,"aa":"E","p":0.03},{"k":11,"pos":9,"aa":"I","p":0.03},{"k":11,"pos":9,"aa":"F","p":0.025},{"k":11,"pos":9,"aa":"D","p":0.02},{"k":11,"pos":9,"aa":"W","p":0.015},
{"k":11,"pos":10,"aa":"A","p":0.115},{"k":11,"pos":10,"aa":"T","p":0.10},{"k":11,"pos":10,"aa":"S","p":0.08},{"k":11,"pos":10,"aa":"V","p":0.075},{"k":11,"pos":10,"aa":"Q","p":0.065},{"k":11,"pos":10,"aa":"E","p":0.065},{"k":11,"pos":10,"aa":"G","p":0.06},{"k":11,"pos":10,"aa":"K","p":0.055},{"k":11,"pos":10,"aa":"N","p":0.05},{"k":11,"pos":10,"aa":"R","p":0.045},{"k":11,"pos":10,"aa":"C","p":0.04},{"k":11,"pos":10,"aa":"H","p":0.04},{"k":11,"pos":10,"aa":"Y","p":0.035},{"k":11,"pos":10,"aa":"L","p":0.035},{"k":11,"pos":10,"aa":"M","p":0.03},{"k":11,"pos":10,"aa":"I","p":0.03},{"k":11,"pos":10,"aa":"D","p":0.025},{"k":11,"pos":10,"aa":"P","p":0.025},{"k":11,"pos":10,"aa":"F","p":0.02},{"k":11,"pos":10,"aa":"W","p":0.01},
{"k":11,"pos":11,"aa":"Y","p":0.36},{"k":11,"pos":11,"aa":"F","p":0.225},{"k":11,"pos":11,"aa":"M","p":0.10},{"k":11,"pos":11,"aa":"L","p":0.095},{"k":11,"pos":11,"aa":"W","p":0.09},{"k":11,"pos":11,"aa":"V","p":0.05},{"k":11,"pos":11,"aa":"I","p":0.025},{"k":11,"pos":11,"aa":"A","p":0.015},{"k":11,"pos":11,"aa":"C","p":0.015},{"k":11,"pos":11,"aa":"H","p":0.01},{"k":11,"pos":11,"aa":"T","p":0.01},{"k":11,"pos":11,"aa":"S","p":0.005}
]},
"vconcat":[
{"width":738,"height":201,
 "title":{"text":"HLA-B*15:517 8-mer"},
 "transform":[{"filter":"datum.k == 8"}],
 "encoding":{
  "x":{"field":"pos","type":"ordinal","title":null,"scale":{"paddingInner":0.2,"paddingOuter":0},"axis":{"labelAngle":0}},
  "y":{"field":"p","type":"quantitative","stack":"zero","title":null,"scale":{"domain":[0,1]},"axis":{"values":[0,0.2,0.4,0.6,0.8,1],"format":".1f"}},
  "order":{"field":"p","type":"quantitative","sort":"descending"},
  "color":{"field":"aa","type":"nominal","legend":null,"scale":{"domain":["A","V","L","I","M","F","W","S","T","N","Q","C","Y","H","D","E","K","R","G","P"],"range":["#21509a","#21509a","#21509a","#21509a","#21509a","#21509a","#21509a","#30b23a","#30b23a","#30b23a","#30b23a","#30b23a","#0b7878","#0b7878","#6c1868","#6c1868","#cc2020","#cc2020","#8a8a20","#8a8a20"]}}
 },
 "layer":[
  {"mark":{"type":"bar","strokeWidth":0},"encoding":{"fillOpacity":{"field":"p","type":"quantitative","legend":null,"scale":{"domain":[0,1],"range":[0,0.4]}}}},
  {"mark":{"type":"text","font":"DejaVu Sans","fontWeight":"bold","baseline":"middle"},"encoding":{"y":{"field":"p","type":"quantitative","stack":"zero","bandPosition":0.5},"text":{"field":"aa"},"size":{"field":"p","type":"quantitative","legend":null,"scale":{"domain":[0,0.458],"range":[0,87],"clamp":true}},"opacity":{"field":"p","type":"quantitative","legend":null,"scale":{"domain":[0,1],"range":[0,0.9]}}}}
 ]},
{"width":738,"height":201,
 "title":{"text":"HLA-B*15:517 9-mer"},
 "transform":[{"filter":"datum.k == 9"}],
 "encoding":{
  "x":{"field":"pos","type":"ordinal","title":null,"scale":{"paddingInner":0.2,"paddingOuter":0},"axis":{"labelAngle":0}},
  "y":{"field":"p","type":"quantitative","stack":"zero","title":null,"scale":{"domain":[0,1]},"axis":{"values":[0,0.2,0.4,0.6,0.8,1],"format":".1f"}},
  "order":{"field":"p","type":"quantitative","sort":"descending"},
  "color":{"field":"aa","type":"nominal","legend":null,"scale":{"domain":["A","V","L","I","M","F","W","S","T","N","Q","C","Y","H","D","E","K","R","G","P"],"range":["#21509a","#21509a","#21509a","#21509a","#21509a","#21509a","#21509a","#30b23a","#30b23a","#30b23a","#30b23a","#30b23a","#0b7878","#0b7878","#6c1868","#6c1868","#cc2020","#cc2020","#8a8a20","#8a8a20"]}}
 },
 "layer":[
  {"mark":{"type":"bar","strokeWidth":0},"encoding":{"fillOpacity":{"field":"p","type":"quantitative","legend":null,"scale":{"domain":[0,1],"range":[0,0.4]}}}},
  {"mark":{"type":"text","font":"DejaVu Sans","fontWeight":"bold","baseline":"middle"},"encoding":{"y":{"field":"p","type":"quantitative","stack":"zero","bandPosition":0.5},"text":{"field":"aa"},"size":{"field":"p","type":"quantitative","legend":null,"scale":{"domain":[0,0.405],"range":[0,77],"clamp":true}},"opacity":{"field":"p","type":"quantitative","legend":null,"scale":{"domain":[0,1],"range":[0,0.9]}}}}
 ]},
{"width":738,"height":201,
 "title":{"text":"HLA-B*15:517 10-mer"},
 "transform":[{"filter":"datum.k == 10"}],
 "encoding":{
  "x":{"field":"pos","type":"ordinal","title":null,"scale":{"paddingInner":0.2,"paddingOuter":0},"axis":{"labelAngle":0}},
  "y":{"field":"p","type":"quantitative","stack":"zero","title":null,"scale":{"domain":[0,1]},"axis":{"values":[0,0.2,0.4,0.6,0.8,1],"format":".1f"}},
  "order":{"field":"p","type":"quantitative","sort":"descending"},
  "color":{"field":"aa","type":"nominal","legend":null,"scale":{"domain":["A","V","L","I","M","F","W","S","T","N","Q","C","Y","H","D","E","K","R","G","P"],"range":["#21509a","#21509a","#21509a","#21509a","#21509a","#21509a","#21509a","#30b23a","#30b23a","#30b23a","#30b23a","#30b23a","#0b7878","#0b7878","#6c1868","#6c1868","#cc2020","#cc2020","#8a8a20","#8a8a20"]}}
 },
 "layer":[
  {"mark":{"type":"bar","strokeWidth":0},"encoding":{"fillOpacity":{"field":"p","type":"quantitative","legend":null,"scale":{"domain":[0,1],"range":[0,0.4]}}}},
  {"mark":{"type":"text","font":"DejaVu Sans","fontWeight":"bold","baseline":"middle"},"encoding":{"y":{"field":"p","type":"quantitative","stack":"zero","bandPosition":0.5},"text":{"field":"aa"},"size":{"field":"p","type":"quantitative","legend":null,"scale":{"domain":[0,0.363],"range":[0,69],"clamp":true}},"opacity":{"field":"p","type":"quantitative","legend":null,"scale":{"domain":[0,1],"range":[0,0.9]}}}}
 ]},
{"width":738,"height":201,
 "title":{"text":"HLA-B*15:517 11-mer"},
 "transform":[{"filter":"datum.k == 11"}],
 "encoding":{
  "x":{"field":"pos","type":"ordinal","title":null,"scale":{"paddingInner":0.2,"paddingOuter":0},"axis":{"labelAngle":0}},
  "y":{"field":"p","type":"quantitative","stack":"zero","title":null,"scale":{"domain":[0,1]},"axis":{"values":[0,0.2,0.4,0.6,0.8,1],"format":".1f"}},
  "order":{"field":"p","type":"quantitative","sort":"descending"},
  "color":{"field":"aa","type":"nominal","legend":null,"scale":{"domain":["A","V","L","I","M","F","W","S","T","N","Q","C","Y","H","D","E","K","R","G","P"],"range":["#21509a","#21509a","#21509a","#21509a","#21509a","#21509a","#21509a","#30b23a","#30b23a","#30b23a","#30b23a","#30b23a","#0b7878","#0b7878","#6c1868","#6c1868","#cc2020","#cc2020","#8a8a20","#8a8a20"]}}
 },
 "layer":[
  {"mark":{"type":"bar","strokeWidth":0},"encoding":{"fillOpacity":{"field":"p","type":"quantitative","legend":null,"scale":{"domain":[0,1],"range":[0,0.4]}}}},
  {"mark":{"type":"text","font":"DejaVu Sans","fontWeight":"bold","baseline":"middle"},"encoding":{"y":{"field":"p","type":"quantitative","stack":"zero","bandPosition":0.5},"text":{"field":"aa"},"size":{"field":"p","type":"quantitative","legend":null,"scale":{"domain":[0,0.332],"range":[0,63],"clamp":true}},"opacity":{"field":"p","type":"quantitative","legend":null,"scale":{"domain":[0,1],"range":[0,0.9]}}}}
 ]}
]
}
